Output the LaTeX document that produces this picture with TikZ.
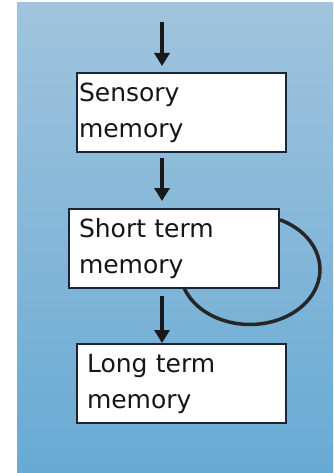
\documentclass[tikz,border=0pt]{standalone}
\usepackage{fontspec}
\usetikzlibrary{arrows.meta,calc}
\newfontfamily\boxfont{DejaVu Sans}
\definecolor{bgtop}{RGB}{160,196,221}
\definecolor{bgbot}{RGB}{104,170,212}
\definecolor{edge}{RGB}{26,38,51}
\definecolor{ink}{RGB}{22,22,22}
\tikzset{
  memorybox/.style={draw=edge, line width=2pt, fill=white, rectangle,
    anchor=north west, minimum height=79pt, align=left, text=ink,
    font=\boxfont\fontsize{25}{36}\selectfont, inner ysep=0pt},
  flowarrow/.style={draw=black!90, line width=3.5pt,
    -{Triangle[length=13pt,width=15pt]}},
  loopline/.style={draw=black!85, line width=3.5pt}
}
\begin{document}
\begin{tikzpicture}[x=1pt,y=-1pt]
  % page and shaded panel
  \useasboundingbox (0,0) rectangle (333,473);
  \fill[white] (0,0) rectangle (333,473);
  \shade[top color=bgtop, bottom color=bgbot] (17,3) rectangle (333,473);

  % the three stores
  \node[memorybox, minimum width=209pt, text width=205pt, inner xsep=2pt]
    (sens) at (76,72) {Sensory\\memory};
  \node[memorybox, minimum width=210pt, text width=190pt, inner xsep=10pt]
    (stm) at (68,208) {Short term\\memory};
  \node[memorybox, minimum width=209pt, text width=189pt, inner xsep=10pt]
    (ltm) at (76,343) {Long term\\memory};

  % flow arrows
  \coordinate (in) at (162,22);
  \draw[flowarrow, shorten >=6pt] (in) -- (in |- sens.north);
  \draw[flowarrow, shorten <=5pt, shorten >=7pt] (sens.south -| in) -- (stm.north -| in);
  \draw[flowarrow, shorten <=7pt] (stm.south -| in) -- (ltm.north -| in);

  % rehearsal loop on short term memory
  \draw[loopline] ([yshift=28.7pt]stm.east)
    arc[start angle=-64.6, end angle=160.9, x radius=70, y radius=55];
\end{tikzpicture}
\end{document}
